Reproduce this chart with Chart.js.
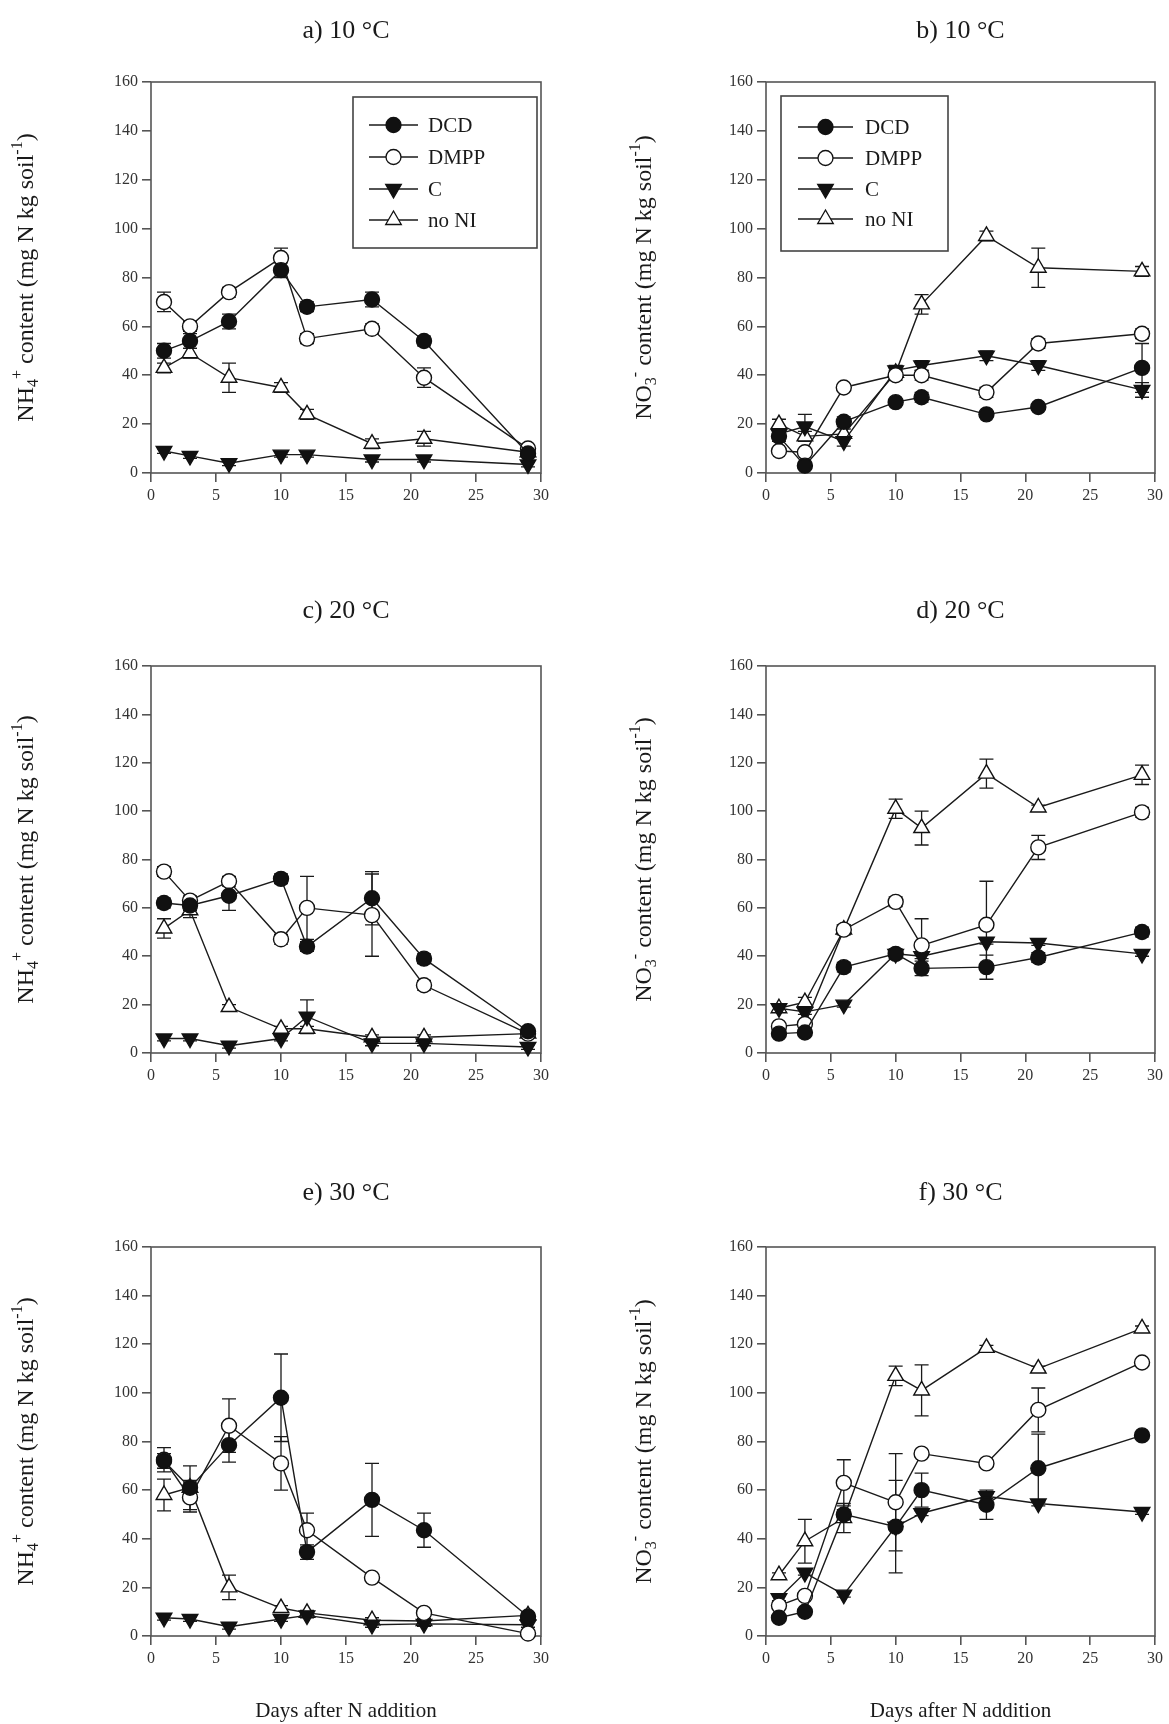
<!DOCTYPE html>
<html>
<head>
<meta charset="utf-8">
<script src="https://cdn.jsdelivr.net/npm/chart.js@4.4.0/dist/chart.umd.min.js"></script>
<style>
  body { margin: 0; background: #fff; width: 1169px; height: 1724px; position: relative; overflow: hidden; }
  canvas { position: absolute; }
</style>
</head>
<body>
<canvas id="a" width="585" height="560" style="left:0;top:0"></canvas>
<canvas id="b" width="584" height="560" style="left:585px;top:0"></canvas>
<canvas id="c" width="585" height="580" style="left:0;top:560px"></canvas>
<canvas id="d" width="584" height="580" style="left:585px;top:560px"></canvas>
<canvas id="e" width="585" height="584" style="left:0;top:1140px"></canvas>
<canvas id="f" width="584" height="584" style="left:585px;top:1140px"></canvas>
<script>
// sampling days and series
const days = [1, 3, 6, 10, 12, 17, 21, 29];
const seriesNames = ['DCD', 'DMPP', 'C', 'no NI'];
const xTicks = { min: 0, max: 30, step: 5 };
const yTicks = { min: 0, max: 160, step: 20 };

// a) NH4+ 10 C
const nh4_10_DCD = [50, 54, 62, 83, 68, 71, 54, 8];
const nh4_10_DMPP = [70, 60, 74, 88, 55, 59, 39, 10];
const nh4_10_C = [9, 7, 4, 7.5, 7.5, 5.5, 5.5, 3.5];
const nh4_10_noNI = [43, 49, 39, 35, 24, 12, 14, 8.5];
const nh4_10_DCD_se = [3, 3, 3, 3, 2, 3, 2, 1];
const nh4_10_DMPP_se = [4, 2, 2, 4, 2, 2, 4, 1];
const nh4_10_C_se = [1, 1, 1, 1, 1, 1, 1, 1];
const nh4_10_noNI_se = [2, 2, 6, 2, 2, 2, 3, 1];

// b) NO3- 10 C
const no3_10_DCD = [15, 3, 21, 29, 31, 24, 27, 43];
const no3_10_DMPP = [9, 8.5, 35, 40, 40, 33, 53, 57];
const no3_10_C = [16, 19, 13, 42, 44, 48, 44, 34];
const no3_10_noNI = [20, 15, 16, 41, 69, 97, 84, 82.5];
const no3_10_DCD_se = [2, 1, 2, 1, 2, 1, 1, 10];
const no3_10_DMPP_se = [1, 1, 1, 2, 2, 2, 2, 2];
const no3_10_C_se = [2, 5, 2, 2, 2, 2, 2, 3];
const no3_10_noNI_se = [2, 2, 2, 2, 4, 2, 8, 2];

// c) NH4+ 20 C
const nh4_20_DCD = [62, 61, 65, 72, 44, 64, 39, 9];
const nh4_20_DMPP = [75, 63, 71, 47, 60, 57, 28, 8];
const nh4_20_C = [6, 6, 3, 6, 15, 4, 4, 2.5];
const nh4_20_noNI = [51.5, 59, 19, 10, 10, 6.5, 6.5, 8];
const nh4_20_DCD_se = [2, 2, 6, 2, 2, 11, 2, 1];
const nh4_20_DMPP_se = [2, 2, 2, 2, 13, 17, 2, 1];
const nh4_20_C_se = [1, 1, 1, 1, 7, 1, 1, 1];
const nh4_20_noNI_se = [4, 3, 1, 1, 1, 1, 1, 1];

// d) NO3- 20 C
const no3_20_DCD = [8, 8.5, 35.5, 41, 35, 35.5, 39.5, 50];
const no3_20_DMPP = [11, 12, 51, 62.5, 44.5, 53, 85, 99.5];
const no3_20_C = [18.5, 17, 20, 41, 40, 46, 45.5, 41];
const no3_20_noNI = [18.5, 21, 51, 101, 93, 115.5, 101.5, 115];
const no3_20_DCD_se = [1, 1, 2, 2, 3, 5, 2, 2];
const no3_20_DMPP_se = [1, 1, 2, 2, 11, 18, 5, 2];
const no3_20_C_se = [1, 1, 1, 1, 1, 1, 1, 1];
const no3_20_noNI_se = [1, 2, 2, 4, 7, 6, 1, 4];

// e) NH4+ 30 C
const nh4_30_DCD = [72, 61, 78.5, 98, 34.5, 56, 43.5, 8];
const nh4_30_DMPP = [72.5, 57, 86.5, 71, 43.5, 24, 9.5, 1];
const nh4_30_C = [7.5, 7, 3.8, 7, 8.5, 4.6, 5, 4.6];
const nh4_30_noNI = [58, 61, 20, 11.5, 9.5, 6.5, 6.2, 8.5];
const nh4_30_DCD_se = [3, 3, 7, 18, 3, 15, 7, 1];
const nh4_30_DMPP_se = [5, 6, 11, 11, 7, 1, 1, 1];
const nh4_30_C_se = [1, 1, 1, 1, 1, 1, 1, 1];
const nh4_30_noNI_se = [6.5, 9, 5, 1, 1, 1, 1, 1];

// f) NO3- 30 C
const no3_30_DCD = [7.5, 10, 50, 45, 60, 54, 69, 82.5];
const no3_30_DMPP = [12.5, 16.5, 63, 55, 75, 71, 93, 112.5];
const no3_30_C = [15.5, 26, 17, 45, 50.5, 57.5, 54.5, 51];
const no3_30_noNI = [25, 39, 48.5, 107, 101, 118.5, 110, 126.5];
const no3_30_DCD_se = [1, 1, 2, 19, 7, 6, 14, 1];
const no3_30_DMPP_se = [1, 1, 9.5, 20, 1, 1, 9, 1];
const no3_30_C_se = [1, 1, 1, 1, 1, 1, 1, 1];
const no3_30_noNI_se = [1, 9, 6, 4, 10.5, 1, 1, 1];

const FONT = '"Liberation Serif", "Times New Roman", serif';
const INK = '#1a1a1a';

const markers = {
  'DCD':   { pointStyle: 'circle',   radius: 7.5, fill: '#111', rot: 0 },
  'DMPP':  { pointStyle: 'circle',   radius: 7.5, fill: '#fff', rot: 0 },
  'C':     { pointStyle: 'triangle', radius: 9,   fill: '#111', rot: 180 },
  'no NI': { pointStyle: 'triangle', radius: 9,   fill: '#fff', rot: 0 }
};

const nh4Label = [['NH', 'n'], ['4', 'sub'], ['+', 'sup'], [' content (mg N kg soil', 'n'], ['-1', 'sup'], [')', 'n']];
const no3Label = [['NO', 'n'], ['3', 'sub'], ['-', 'sup'], [' content (mg N kg soil', 'n'], ['-1', 'sup'], [')', 'n']];

// error bars, drawn under the markers
const errorBars = {
  id: 'errorBars',
  beforeDatasetsDraw(chart) {
    const ctx = chart.ctx, xs = chart.scales.x, ys = chart.scales.y;
    ctx.save();
    ctx.strokeStyle = INK;
    ctx.lineWidth = 1.3;
    chart.data.datasets.forEach(ds => {
      ds.data.forEach((p, i) => {
        const e = ds.errors[i];
        if (!e) return;
        const x = xs.getPixelForValue(p.x);
        const lo = ys.getPixelForValue(p.y - e), hi = ys.getPixelForValue(p.y + e);
        ctx.beginPath();
        ctx.moveTo(x, lo); ctx.lineTo(x, hi);
        ctx.moveTo(x - 7, lo); ctx.lineTo(x + 7, lo);
        ctx.moveTo(x - 7, hi); ctx.lineTo(x + 7, hi);
        ctx.stroke();
      });
    });
    ctx.restore();
  }
};

function richWidth(ctx, parts, size) {
  let w = 0;
  parts.forEach(([t, k]) => {
    ctx.font = (k === 'n' ? size : Math.round(size * 0.65)) + 'px ' + FONT;
    w += ctx.measureText(t).width;
  });
  return w;
}

// frame, titles, rotated y label and boxed legend
const decor = {
  id: 'decor',
  beforeDatasetsDraw(chart) {
    const ctx = chart.ctx, a = chart.chartArea;
    ctx.save();
    ctx.strokeStyle = '#555';
    ctx.lineWidth = 1.6;
    ctx.strokeRect(a.left, a.top, a.right - a.left, a.bottom - a.top);
    ctx.restore();
  },
  afterDraw(chart, args, o) {
    const ctx = chart.ctx, a = chart.chartArea;
    const cx = (a.left + a.right) / 2, cy = (a.top + a.bottom) / 2;
    ctx.save();
    ctx.fillStyle = INK;
    ctx.textAlign = 'center';
    ctx.textBaseline = 'middle';
    ctx.font = '26px ' + FONT;
    ctx.fillText(o.title, cx, o.titleY);
    if (o.xTitle) {
      ctx.font = '21px ' + FONT;
      ctx.fillText(o.xTitle, cx, o.xTitleY);
    }
    // y label
    const size = 24;
    ctx.save();
    ctx.translate(a.left - o.yLabelGap, cy);
    ctx.rotate(-Math.PI / 2);
    ctx.textAlign = 'left';
    ctx.textBaseline = 'middle';
    let x = -richWidth(ctx, o.yLabel, size) / 2;
    o.yLabel.forEach(([t, k]) => {
      const s = k === 'n' ? size : Math.round(size * 0.65);
      ctx.font = s + 'px ' + FONT;
      const dy = k === 'sub' ? size * 0.3 : (k === 'sup' ? -size * 0.38 : 0);
      ctx.fillText(t, x, dy);
      x += ctx.measureText(t).width;
    });
    ctx.restore();

    if (o.legend) {
      const L = o.legend;
      ctx.strokeStyle = '#444';
      ctx.lineWidth = 1.6;
      ctx.strokeRect(L.x1, L.y1, L.x2 - L.x1, L.y2 - L.y1);
      seriesNames.forEach((name, k) => {
        const y = L.rows[k], m = markers[name];
        ctx.strokeStyle = INK;
        ctx.lineWidth = 1.3;
        ctx.beginPath();
        ctx.moveTo(L.lx1, y); ctx.lineTo(L.lx2, y);
        ctx.stroke();
        ctx.fillStyle = m.fill;
        ctx.strokeStyle = '#111';
        Chart.helpers.drawPoint(ctx, { pointStyle: m.pointStyle, radius: m.radius, rotation: m.rot, borderWidth: 1.3 }, (L.lx1 + L.lx2) / 2, y);
        ctx.fillStyle = INK;
        ctx.font = '21px ' + FONT;
        ctx.textAlign = 'left';
        ctx.fillText(name, L.tx, y + 1);
      });
    }
    ctx.restore();
  }
};

function buildDatasets(vals, errs) {
  return seriesNames.map((name, k) => {
    const m = markers[name];
    return {
      label: name,
      data: days.map((d, i) => ({ x: d, y: vals[k][i] })),
      errors: errs[k],
      borderColor: INK,
      borderWidth: 1.4,
      pointStyle: m.pointStyle,
      pointRadius: m.radius,
      pointHoverRadius: m.radius,
      pointRotation: m.rot,
      pointBackgroundColor: m.fill,
      pointBorderColor: '#111',
      pointBorderWidth: 1.4,
      tension: 0,
      fill: false,
      clip: false
    };
  });
}

function axis(range, fitFn) {
  return {
    type: 'linear',
    min: range.min,
    max: range.max,
    ticks: { stepSize: range.step, autoSkip: false, maxRotation: 0, color: '#333', padding: 4, font: { family: FONT, size: 16 } },
    grid: { display: true, drawOnChartArea: false, drawTicks: true, tickLength: 9, color: '#555', lineWidth: 1.6 },
    border: { display: false },
    afterFit: fitFn
  };
}

function makePanel(id, area, opts, vals, errs) {
  const cv = document.getElementById(id);
  const W = cv.width, H = cv.height;
  new Chart(cv, {
    type: 'line',
    data: { datasets: buildDatasets(vals, errs) },
    options: {
      responsive: false,
      animation: false,
      events: [],
      layout: { padding: { left: area.left - 50, right: W - area.right, top: area.top, bottom: H - area.bottom - 35 } },
      scales: {
        x: axis(xTicks, s => { s.height = 35; }),
        y: axis(yTicks, s => { s.width = 50; })
      },
      plugins: { legend: { display: false }, tooltip: { enabled: false }, decor: opts }
    },
    plugins: [errorBars, decor]
  });
}

const leftCol = { left: 151, right: 541 };
const rightCol = { left: 181, right: 570 };

makePanel('a', { ...leftCol, top: 82, bottom: 473 },
  { title: 'a) 10 °C', titleY: 31, yLabel: nh4Label, yLabelGap: 124,
    legend: { x1: 353, y1: 97, x2: 537, y2: 248, rows: [125, 157, 189, 220], lx1: 369, lx2: 418, tx: 428 } },
  [nh4_10_DCD, nh4_10_DMPP, nh4_10_C, nh4_10_noNI],
  [nh4_10_DCD_se, nh4_10_DMPP_se, nh4_10_C_se, nh4_10_noNI_se]);

makePanel('b', { ...rightCol, top: 82, bottom: 473 },
  { title: 'b) 10 °C', titleY: 31, yLabel: no3Label, yLabelGap: 121,
    legend: { x1: 196, y1: 96, x2: 363, y2: 251, rows: [127, 158, 189, 219], lx1: 213, lx2: 268, tx: 280 } },
  [no3_10_DCD, no3_10_DMPP, no3_10_C, no3_10_noNI],
  [no3_10_DCD_se, no3_10_DMPP_se, no3_10_C_se, no3_10_noNI_se]);

makePanel('c', { ...leftCol, top: 106, bottom: 493 },
  { title: 'c) 20 °C', titleY: 51, yLabel: nh4Label, yLabelGap: 124 },
  [nh4_20_DCD, nh4_20_DMPP, nh4_20_C, nh4_20_noNI],
  [nh4_20_DCD_se, nh4_20_DMPP_se, nh4_20_C_se, nh4_20_noNI_se]);

makePanel('d', { ...rightCol, top: 106, bottom: 493 },
  { title: 'd) 20 °C', titleY: 51, yLabel: no3Label, yLabelGap: 121 },
  [no3_20_DCD, no3_20_DMPP, no3_20_C, no3_20_noNI],
  [no3_20_DCD_se, no3_20_DMPP_se, no3_20_C_se, no3_20_noNI_se]);

makePanel('e', { ...leftCol, top: 107, bottom: 496 },
  { title: 'e) 30 °C', titleY: 53, yLabel: nh4Label, yLabelGap: 124, xTitle: 'Days after N addition', xTitleY: 571 },
  [nh4_30_DCD, nh4_30_DMPP, nh4_30_C, nh4_30_noNI],
  [nh4_30_DCD_se, nh4_30_DMPP_se, nh4_30_C_se, nh4_30_noNI_se]);

makePanel('f', { ...rightCol, top: 107, bottom: 496 },
  { title: 'f) 30 °C', titleY: 53, yLabel: no3Label, yLabelGap: 121, xTitle: 'Days after N addition', xTitleY: 571 },
  [no3_30_DCD, no3_30_DMPP, no3_30_C, no3_30_noNI],
  [no3_30_DCD_se, no3_30_DMPP_se, no3_30_C_se, no3_30_noNI_se]);
</script>
</body>
</html>
